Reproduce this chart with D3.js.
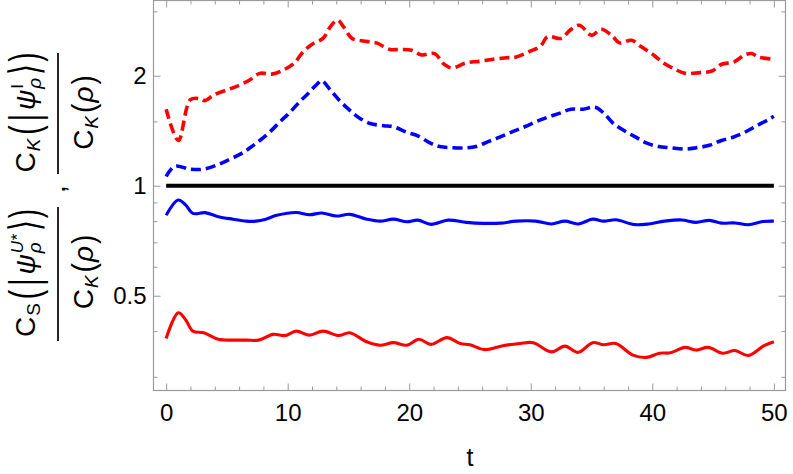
<!DOCTYPE html>
<html><head><meta charset="utf-8">
<script src="https://cdn.jsdelivr.net/npm/d3@7"></script>
<style>
body{margin:0;background:#fff}
svg{display:block}
text{font-family:"Liberation Sans",Arial,sans-serif}
</style>
</head><body>
<svg id="c" width="793" height="474"></svg>
<script>
// ---------------- DATA ----------------
const xMajorTicks = [0, 10, 20, 30, 40, 50];
const xMinorTicks = [2,4,6,8,12,14,16,18,22,24,26,28,32,34,36,38,42,44,46,48];
const yMajorTicks = [0.5, 1, 2];
const yMajorLabels = ["0.5", "1", "2"];
const yMinorTicks = [0.3, 0.4, 0.6, 0.7, 0.8, 0.9, 1.5, 3];
const xLabel = "t";

// C_K(|psi^I>)/C_K(rho)  (red dashed)
const redDashedT = [0,1.0,2.0,2.8,3.2,3.9,5.0,5.8,6.9,7.7,8.7,9.6,10.5,11.3,12.1,12.9,13.6,14.1,14.6,15.3,16.2,17.3,18.4,19.2,20.2,21.0,22.1,22.8,23.5,24.7,25.8,26.9,28.0,28.8,29.9,30.8,31.4,32.5,33.2,34.0,35.0,35.8,36.7,37.3,38.3,39.1,40.1,40.9,41.9,42.7,43.9,44.9,45.7,46.7,47.6,48.2,48.7,50];
const redDashedV = [1.62,1.33,1.72,1.73,1.71,1.77,1.83,1.87,1.95,2.03,2.02,2.07,2.16,2.33,2.45,2.53,2.75,2.84,2.72,2.53,2.49,2.46,2.36,2.36,2.35,2.28,2.30,2.16,2.10,2.17,2.19,2.22,2.24,2.25,2.33,2.41,2.56,2.53,2.66,2.75,2.58,2.68,2.57,2.46,2.50,2.40,2.28,2.17,2.08,2.03,2.04,2.06,2.15,2.18,2.28,2.30,2.25,2.22];

// blue dashed
const blueDashedT = [0,0.7,2.0,3.1,4.2,5.2,6.1,6.9,7.7,8.5,9.4,10.2,11.0,11.7,12.5,12.8,13.5,14.2,15.0,15.8,16.8,17.9,18.7,19.8,20.7,21.7,22.5,23.6,24.7,25.5,26.5,27.5,28.6,29.5,30.5,31.4,32.4,33.3,34.3,35.3,36.0,36.8,37.6,38.6,39.5,40.5,41.5,42.7,43.6,44.7,45.7,46.7,47.6,48.6,49.6,50];
const blueDashedV = [1.06,1.13,1.11,1.11,1.14,1.18,1.22,1.27,1.33,1.40,1.50,1.59,1.70,1.79,1.91,1.94,1.83,1.72,1.62,1.54,1.48,1.46,1.45,1.40,1.37,1.31,1.28,1.27,1.27,1.28,1.32,1.36,1.41,1.45,1.50,1.54,1.58,1.62,1.62,1.64,1.58,1.48,1.42,1.36,1.31,1.28,1.27,1.26,1.27,1.29,1.33,1.36,1.40,1.46,1.52,1.55];

// reference line at 1
const refT = [0, 50];
const refV = [1, 1];

// blue solid
const blueSolidT = [0,1.0,1.6,2.2,3.2,4.3,5.5,6.6,7.4,8.2,9.1,10.7,11.8,12.8,14.0,15.1,16.5,17.6,18.7,19.8,20.7,21.8,23.2,24.7,26.1,27.5,28.8,30.4,31.7,32.8,33.9,35.1,36.0,37.0,38.5,39.7,41.0,42.4,43.6,44.7,45.7,46.8,47.9,49.1,50];
const blueSolidV = [0.83,0.914,0.886,0.84,0.844,0.823,0.81,0.80,0.80,0.81,0.83,0.845,0.833,0.842,0.826,0.835,0.81,0.80,0.81,0.797,0.805,0.784,0.805,0.794,0.789,0.79,0.80,0.80,0.786,0.80,0.786,0.81,0.80,0.807,0.783,0.786,0.80,0.806,0.794,0.804,0.79,0.791,0.782,0.798,0.80];

// red solid
const redSolidT = [0,1.0,1.6,2.2,3.1,4.3,5.5,6.6,7.6,8.8,9.8,10.7,11.8,12.9,14.2,15.1,16.5,17.6,18.7,19.8,20.8,21.8,23.1,24.2,25.0,26.2,27.7,29.1,30.2,31.7,32.8,33.9,35.1,36.0,37.0,38.4,39.5,40.6,41.5,42.7,43.6,44.6,45.8,46.8,47.9,49.2,50];
const redSolidV = [0.382,0.449,0.43,0.40,0.396,0.38,0.378,0.378,0.378,0.392,0.389,0.40,0.39,0.40,0.389,0.396,0.374,0.366,0.372,0.366,0.38,0.368,0.384,0.37,0.367,0.356,0.365,0.37,0.372,0.351,0.364,0.35,0.372,0.367,0.37,0.344,0.339,0.348,0.349,0.361,0.355,0.361,0.348,0.354,0.343,0.365,0.374];

// ---------------- DRAW ----------------
const svg = d3.select('#c');
const L = 153.5, R = 785.5, T = 0.5, B = 390.5;
const frameColor = '#9a9a9a';

const x = d3.scaleLinear().domain([-1, 51]).range([154, 786]);
const y = d3.scaleLog().domain([0.2743, 3.203]).range([391, 1]);

function zip(ts, vs){ return ts.map((t,i)=>({t, v: vs[i]})); }

const line = d3.line().x(d=>x(d.t)).y(d=>y(d.v)).curve(d3.curveCatmullRom.alpha(0.5));
const lineLin = d3.line().x(d=>x(d.t)).y(d=>y(d.v));

const plot = svg.append('g');
const series = [
  {T: redDashedT, V: redDashedV, color:'#ff0000', dash:'10,5', w:3.6},
  {T: blueDashedT, V: blueDashedV, color:'#0000ff', dash:'10,5', w:3.6},
  {T: blueSolidT, V: blueSolidV, color:'#0000ff', dash:null, w:3.1},
  {T: redSolidT, V: redSolidV, color:'#ff0000', dash:null, w:3.1},
];
series.forEach(s=>{
  plot.append('path').attr('d', line(zip(s.T, s.V)))
    .attr('fill','none').attr('stroke', s.color).attr('stroke-width', s.w)
    .attr('stroke-dasharray', s.dash).attr('stroke-linejoin','round');
});
plot.append('path').attr('d', lineLin(zip(refT, refV)))
  .attr('fill','none').attr('stroke','#000').attr('stroke-width',3.8);

// frame
svg.append('rect').attr('x',L).attr('y',T).attr('width',R-L).attr('height',B-T)
  .attr('fill','none').attr('stroke',frameColor).attr('stroke-width',1.2);

function styleAxis(g, labels){
  g.select('.domain').remove();
  g.selectAll('line').attr('stroke', frameColor).attr('stroke-width',1);
  g.selectAll('text').attr('font-size', 24).attr('fill','#000')
    .style('font-family','"Liberation Sans",Arial,sans-serif');
  if(!labels) g.selectAll('text').remove();
}
// bottom
styleAxis(svg.append('g').attr('transform',`translate(0,${B})`)
  .call(d3.axisBottom(x).tickValues(xMajorTicks).tickSize(-7).tickPadding(13).tickFormat(d3.format('d'))), true);
styleAxis(svg.append('g').attr('transform',`translate(0,${B})`)
  .call(d3.axisBottom(x).tickValues(xMinorTicks).tickSize(-4)), false);
// top
styleAxis(svg.append('g').attr('transform',`translate(0,${T})`)
  .call(d3.axisTop(x).tickValues(xMajorTicks).tickSize(-7)), false);
styleAxis(svg.append('g').attr('transform',`translate(0,${T})`)
  .call(d3.axisTop(x).tickValues(xMinorTicks).tickSize(-4)), false);
// left
styleAxis(svg.append('g').attr('transform',`translate(${L},0)`)
  .call(d3.axisLeft(y).tickValues(yMajorTicks).tickSize(-7).tickPadding(7)
    .tickFormat((d,i)=>yMajorLabels[i])), true);
styleAxis(svg.append('g').attr('transform',`translate(${L},0)`)
  .call(d3.axisLeft(y).tickValues(yMinorTicks).tickSize(-4)), false);
// right
styleAxis(svg.append('g').attr('transform',`translate(${R},0)`)
  .call(d3.axisRight(y).tickValues(yMajorTicks).tickSize(-7)), false);
styleAxis(svg.append('g').attr('transform',`translate(${R},0)`)
  .call(d3.axisRight(y).tickValues(yMinorTicks).tickSize(-4)), false);

// x label
svg.append('text').attr('x', 470).attr('y', 466).attr('text-anchor','middle')
  .attr('font-size', 25).attr('fill','#000').text(xLabel);

// y label (rotated math)
const yl = svg.append('g').attr('transform','rotate(-90)');
const FS = 28;
function mathRow(pieces, centerU, base){
  const nodes = [];
  let u = 0, pendW = null;
  pieces.forEach(p=>{
    const t = yl.append('text').text(p.s).attr('font-size', p.size||FS)
      .attr('font-style', p.it?'italic':'normal').attr('fill','#000');
    if(p.ff) t.attr('font-family', p.ff);
    const w = t.node().getComputedTextLength();
    nodes.push({t, p, u: u + (p.pre||0)});
    if(p.stack){ pendW = w + (p.pre||0); }
    else {
      let adv = w + (p.pre||0) + (p.gap||0);
      if(pendW!==null){ adv = Math.max(adv, pendW + (p.gap||0)); pendW = null; }
      u += adv;
    }
  });
  const off = centerU - u/2;
  nodes.forEach(n=>{
    const xx = off + n.u, yy = base - (n.p.sh||0);
    n.t.attr('x', xx).attr('y', yy);
    if(n.p.k){
      const ax = base - 0.26*FS;
      n.t.attr('transform', `translate(0,${ax}) scale(1,${n.p.k}) translate(0,${-ax})`);
    }
  });
}
const SUB = 19;
// fraction 1 : C_S(|psi_rho^{U*}>)/C_K(rho)
mathRow([
  {s:'C'}, {s:'S', size:SUB, sh:-5, pre:1},
  {s:'(', k:1.55, pre:4}, {s:'|', k:1.5, pre:4}, {s:'ψ', it:true, pre:4},
  {s:'U*', it:true, size:17, sh:12, stack:true, pre:1}, {s:'ρ', it:true, size:SUB, sh:-6, pre:1},
  {s:'⟩', k:1.5, ff:'DejaVu Sans', pre:3}, {s:')', k:1.55, pre:2}
], -273, 35);
mathRow([{s:'C'},{s:'K',it:true,size:SUB,sh:-5,pre:1},{s:'(',pre:3,k:1.12},{s:'ρ',it:true,pre:1},{s:')',pre:2,k:1.12}], -272, 93);
yl.append('line').attr('x1',-341).attr('x2',-207).attr('y1',58).attr('y2',58)
  .attr('stroke','#000').attr('stroke-width',1.7);
// comma
yl.append('text').attr('x',-193).attr('y',65).attr('font-size',FS).attr('fill','#000').text(',');
// fraction 2 : C_K(|psi_rho^I>)/C_K(rho)
mathRow([
  {s:'C'}, {s:'K', it:true, size:SUB, sh:-5, pre:1},
  {s:'(', k:1.55, pre:4}, {s:'|', k:1.5, pre:4}, {s:'ψ', it:true, pre:4},
  {s:'I', size:17, sh:12, stack:true, pre:1}, {s:'ρ', it:true, size:SUB, sh:-6, pre:1},
  {s:'⟩', k:1.5, ff:'DejaVu Sans', pre:3}, {s:')', k:1.55, pre:2}
], -112.5, 35);
mathRow([{s:'C'},{s:'K',it:true,size:SUB,sh:-5,pre:1},{s:'(',pre:3,k:1.12},{s:'ρ',it:true,pre:1},{s:')',pre:2,k:1.12}], -112.5, 93);
yl.append('line').attr('x1',-174).attr('x2',-53).attr('y1',58).attr('y2',58)
  .attr('stroke','#000').attr('stroke-width',1.7);
</script>
</body></html>
